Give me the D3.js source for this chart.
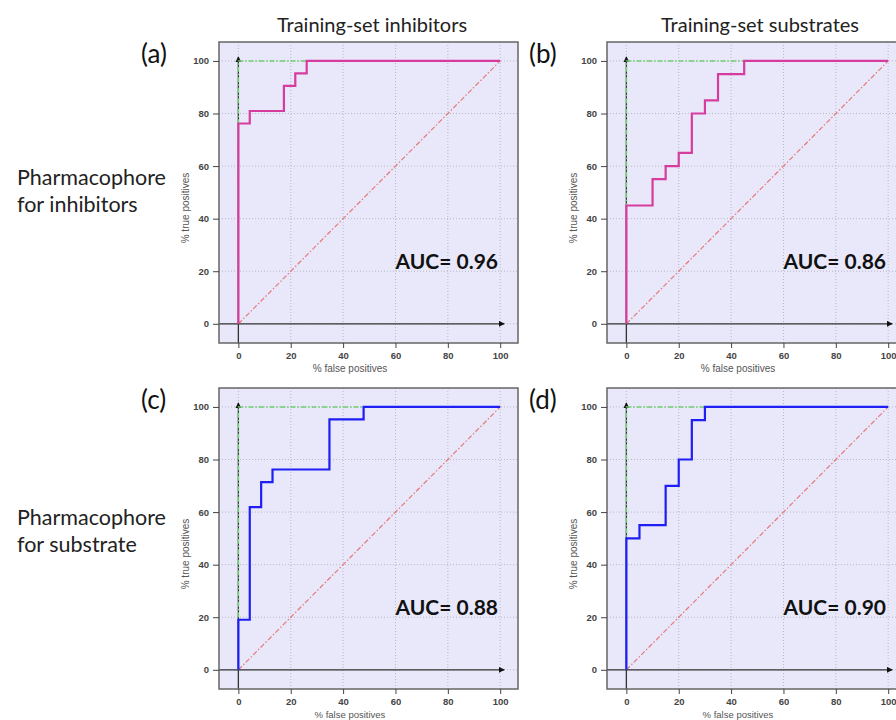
<!DOCTYPE html>
<html>
<head>
<meta charset="utf-8">
<script src="https://cdn.jsdelivr.net/npm/d3@7"></script>
<style>
  body { margin: 0; background: #fff; }
  svg { display: block; }
</style>
</head>
<body>
<svg width="896" height="720"></svg>
<script>
// ROC step data (% false positives / % true positives)
const panelIds = ['(a)', '(b)', '(c)', '(d)'];
const colTitles = ['Training-set inhibitors', 'Training-set substrates'];
const rowLabels = [['Pharmacophore', 'for inhibitors'], ['Pharmacophore', 'for substrate']];
const aucLabels = ['AUC= 0.96', 'AUC= 0.86', 'AUC= 0.88', 'AUC= 0.90'];

const fprA = [0, 0, 4.35, 17.39, 21.74, 26.09, 100];
const tprA = [0, 76.19, 80.95, 90.48, 95.24, 100, 100];
const fprB = [0, 0, 10, 15, 20, 25, 30, 35, 45, 100];
const tprB = [0, 45, 55, 60, 65, 80, 85, 95, 100, 100];
const fprC = [0, 0, 4.35, 8.7, 13.04, 34.78, 47.83, 100];
const tprC = [0, 19.05, 61.9, 71.43, 76.19, 95.24, 100, 100];
const fprD = [0, 0, 5, 15, 20, 25, 30, 100];
const tprD = [0, 50, 55, 70, 80, 95, 100, 100];

const ticks = [0, 20, 40, 60, 80, 100];

const svg = d3.select('svg');
const boxW = 299, boxH = 301;
const colX = [219, 607];
const rowY = [42, 388];
const titleFont = 'Lato, "Open Sans", sans-serif';

const panels = [
  { fpr: fprA, tpr: tprA, color: '#d63c9e', col: 0, row: 0 },
  { fpr: fprB, tpr: tprB, color: '#d63c9e', col: 1, row: 0 },
  { fpr: fprC, tpr: tprC, color: '#1e1ef5', col: 0, row: 1 },
  { fpr: fprD, tpr: tprD, color: '#1e1ef5', col: 1, row: 1 }
];

// column titles
colTitles.forEach((t, i) => {
  svg.append('text')
    .attr('x', colX[i] + 153).attr('y', 32)
    .attr('text-anchor', 'middle')
    .attr('font-family', titleFont).attr('font-size', 20)
    .attr('fill', '#222')
    .text(t);
});

// row labels
rowLabels.forEach((lines, i) => {
  lines.forEach((l, j) => {
    svg.append('text')
      .attr('x', 17).attr('y', [185, 525][i] + j * 27)
      .attr('font-family', titleFont).attr('font-size', 21.5)
      .attr('fill', '#222')
      .text(l);
  });
});

const defs = svg.append('defs');
defs.append('marker')
  .attr('id', 'arrow')
  .attr('viewBox', '0 0 10 10')
  .attr('refX', 9).attr('refY', 5)
  .attr('markerWidth', 6).attr('markerHeight', 6)
  .attr('markerUnits', 'userSpaceOnUse')
  .attr('orient', 'auto')
  .append('path')
  .attr('d', 'M0,0L10,5L0,10Z')
  .attr('fill', '#111');

panels.forEach((p, i) => {
  const g = svg.append('g')
    .attr('transform', `translate(${colX[p.col]},${rowY[p.row]})`);

  const x = d3.scaleLinear().domain([-7.4, 106.8]).range([0, boxW]);
  const y = d3.scaleLinear().domain([-7.3, 107.2]).range([boxH, 0]);

  g.append('rect')
    .attr('width', boxW).attr('height', boxH)
    .attr('fill', '#e8e8fa');

  // grid
  g.selectAll('.gx').data(ticks).join('line')
    .attr('x1', d => x(d)).attr('x2', d => x(d))
    .attr('y1', 0).attr('y2', boxH)
    .attr('stroke', '#b8b8c4').attr('stroke-width', 1)
    .attr('stroke-dasharray', '1,2');
  g.selectAll('.gy').data(ticks).join('line')
    .attr('y1', d => y(d)).attr('y2', d => y(d))
    .attr('x1', 0).attr('x2', boxW)
    .attr('stroke', '#b8b8c4').attr('stroke-width', 1)
    .attr('stroke-dasharray', '1,2');

  // random classifier diagonal
  g.append('line')
    .attr('x1', x(0)).attr('y1', y(0))
    .attr('x2', x(100)).attr('y2', y(100))
    .attr('stroke', '#e67878').attr('stroke-width', 1.2)
    .attr('stroke-dasharray', '5,2,1.5,2');

  // axis lines with arrows
  g.append('line')
    .attr('x1', x(0)).attr('y1', boxH)
    .attr('x2', x(0)).attr('y2', y(100) - 4)
    .attr('stroke', '#333').attr('stroke-width', 1.3)
    .attr('marker-end', 'url(#arrow)');
  g.append('line')
    .attr('x1', 0).attr('y1', y(0))
    .attr('x2', x(100) + 4).attr('y2', y(0))
    .attr('stroke', '#333').attr('stroke-width', 1.3)
    .attr('marker-end', 'url(#arrow)');

  // ideal curve
  const line = d3.line().x(d => x(d[0])).y(d => y(d[1]));
  g.append('path')
    .attr('d', line([[0, 0], [0, 100], [100, 100]]))
    .attr('fill', 'none')
    .attr('stroke', '#6fd06f').attr('stroke-width', 1.4)
    .attr('stroke-dasharray', '5,2,1.5,2');

  // ROC step curve
  const roc = d3.line()
    .x(d => x(d[0])).y(d => y(d[1]))
    .curve(d3.curveStepAfter);
  g.append('path')
    .attr('d', roc(d3.zip(p.fpr, p.tpr)))
    .attr('fill', 'none')
    .attr('stroke', p.color).attr('stroke-width', 2.2);

  // frame
  g.append('rect')
    .attr('width', boxW).attr('height', boxH)
    .attr('fill', 'none')
    .attr('stroke', '#666').attr('stroke-width', 1.5);

  // axes
  const xAxis = g.append('g')
    .attr('transform', `translate(0,${boxH})`)
    .call(d3.axisBottom(x).tickValues(ticks).tickSize(5).tickPadding(4));
  const yAxis = g.append('g')
    .call(d3.axisLeft(y).tickValues(ticks).tickSize(6).tickPadding(4));
  [xAxis, yAxis].forEach(a => {
    a.select('.domain').remove();
    a.selectAll('line').attr('stroke', '#444');
    a.selectAll('text')
      .attr('font-family', '"Liberation Sans", Arial, sans-serif')
      .attr('font-size', 9.5).attr('font-weight', 'bold')
      .attr('fill', '#444');
  });

  // bottom row label kept inside the page
  g.append('text')
    .attr('x', 131).attr('y', p.row === 0 ? boxH + 29 : boxH + 28.5)
    .attr('text-anchor', 'middle')
    .attr('font-family', '"Liberation Sans", Arial, sans-serif')
    .attr('font-size', p.row === 0 ? 10 : 9.5).attr('fill', '#555')
    .text('% false positives');
  g.append('text')
    .attr('transform', `translate(-30,166) rotate(-90)`)
    .attr('text-anchor', 'middle')
    .attr('font-family', '"Liberation Sans", Arial, sans-serif')
    .attr('font-size', 10).attr('fill', '#555')
    .text('% true positives');

  // AUC label
  g.append('text')
    .attr('x', 279).attr('y', 227)
    .attr('text-anchor', 'end')
    .attr('font-family', titleFont).attr('font-size', 21)
    .attr('font-weight', 'bold').attr('fill', '#111')
    .text(aucLabels[i]);

  // panel letter
  svg.append('text')
    .attr('x', colX[p.col] - 78).attr('y', rowY[p.row] + 21)
    .attr('font-family', titleFont).attr('font-size', 26)
    .attr('fill', '#111')
    .text(panelIds[i]);
});
</script>
</body>
</html>
